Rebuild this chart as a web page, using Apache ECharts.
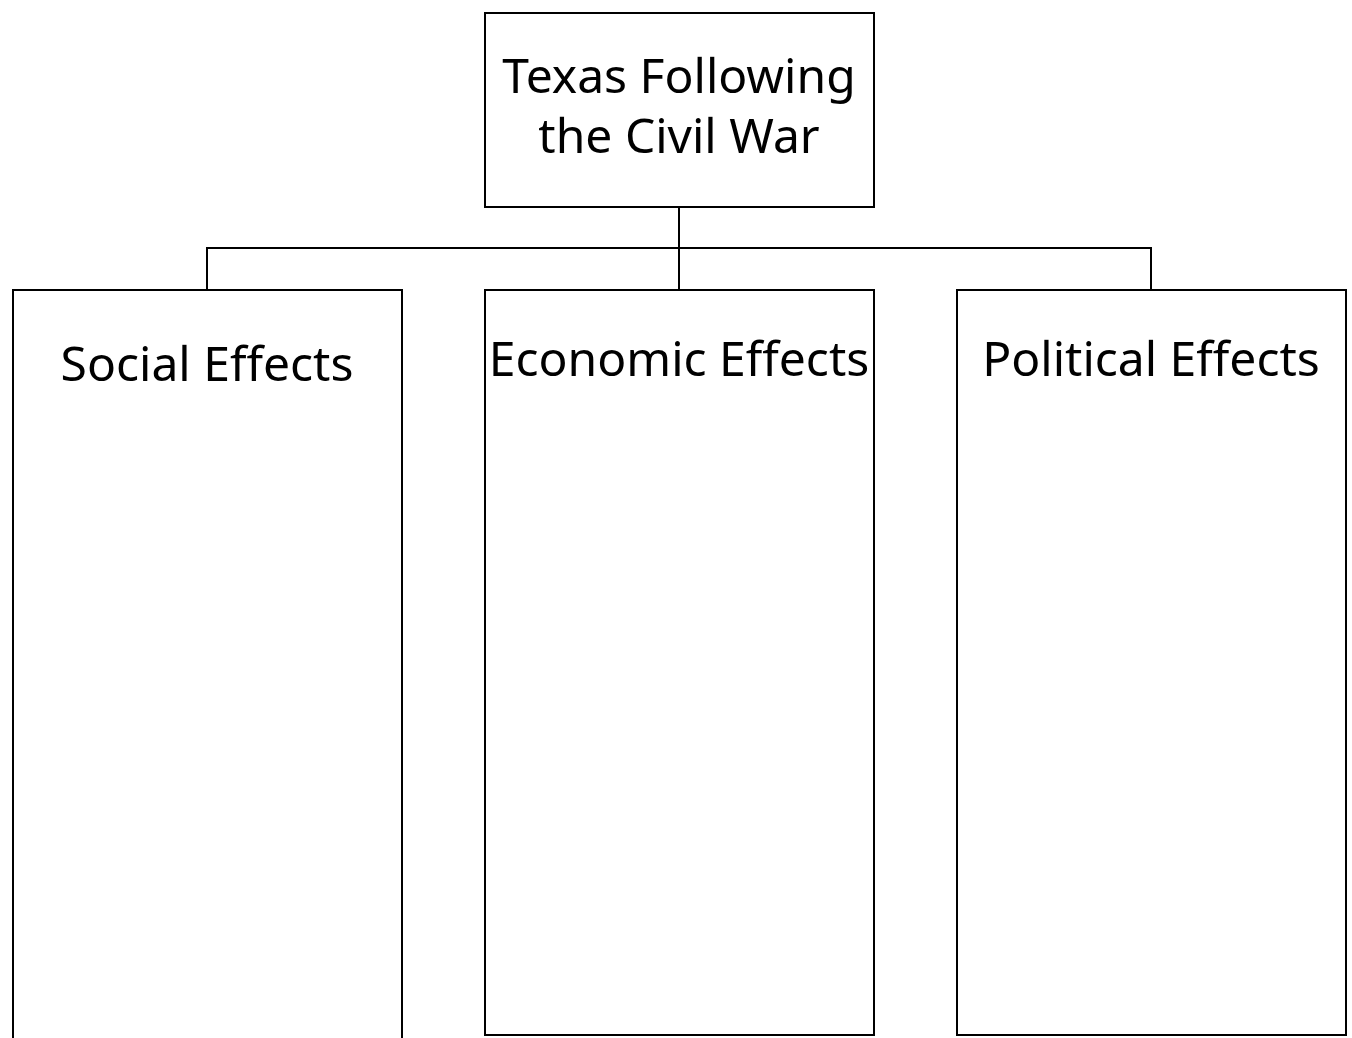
<!DOCTYPE html>
<html>
<head>
<meta charset="utf-8">
<script src="https://cdn.jsdelivr.net/npm/echarts@6/dist/echarts.min.js"></script>
<style>
  html, body { margin: 0; padding: 0; background: #fff; }
  #chart { width: 1352px; height: 1038px; }
</style>
</head>
<body>
<div id="chart"></div>
<script>
// 图框：[x0, y0, x1, y1]（画布坐标单位）
const boxes = [
  [485, 13, 874, 207],
  [13, 290, 402, 1050],
  [485, 290, 874, 1035],
  [957, 290, 1346, 1035]
]
// 框内文字：[x, y, 文本]
const labels = [
  [679, 79, 'Texas Following'],
  [679, 139, 'the Civil War'],
  [207, 367, 'Social Effects'],
  [679, 362, 'Economic Effects'],
  [1151, 362, 'Political Effects']
]
// 连接线（折线）
const connectors = [
  [[679, 207], [679, 290]],
  [[207, 290], [207, 248], [1151, 248], [1151, 290]]
]

const chart = echarts.init(document.getElementById('chart'), null, { renderer: 'canvas' })

chart.setOption({
  animation: false,
  backgroundColor: '#fff',
  grid: { left: 0, right: 0, top: 0, bottom: 0 },
  xAxis: { type: 'value', min: 0, max: 1352, show: false },
  yAxis: { type: 'value', min: 0, max: 1038, inverse: true, show: false },
  series: [
    {
      type: 'lines',
      coordinateSystem: 'cartesian2d',
      polyline: true,
      silent: true,
      lineStyle: { color: '#000', width: 2, opacity: 1 },
      data: connectors.map((c) => ({ coords: c }))
    },
    {
      type: 'custom',
      coordinateSystem: 'cartesian2d',
      silent: true,
      clip: false,
      data: boxes,
      renderItem: (params, api) => {
        const p0 = api.coord([api.value(0), api.value(1)])
        const p1 = api.coord([api.value(2), api.value(3)])
        return {
          type: 'rect',
          shape: { x: p0[0], y: p0[1], width: p1[0] - p0[0], height: p1[1] - p0[1] },
          style: { fill: '#fff', stroke: '#000', lineWidth: 2 }
        }
      }
    },
    {
      type: 'custom',
      coordinateSystem: 'cartesian2d',
      silent: true,
      clip: false,
      data: labels,
      renderItem: (params, api) => {
        const p = api.coord([api.value(0), api.value(1)])
        return {
          type: 'text',
          x: p[0],
          y: p[1],
          style: {
            text: labels[params.dataIndex][2],
            fill: '#000',
            font: '48px "Noto Sans"',
            align: 'center',
            verticalAlign: 'middle'
          }
        }
      }
    }
  ]
})
</script>
</body>
</html>
